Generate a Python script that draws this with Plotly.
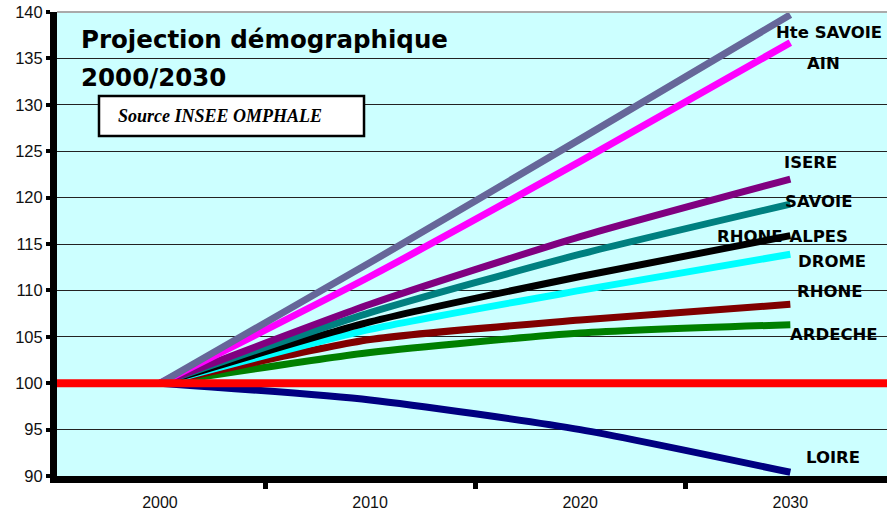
import plotly.graph_objects as go

years = [2000, 2010, 2020, 2030]
series_names = ["LOIRE", "ARDECHE", "RHONE", "DROME", "RHONE-ALPES", "SAVOIE", "ISERE", "AIN", "Hte SAVOIE"]
loire = [100, 98.2, 95.0, 90.4]
ardeche = [100, 103.3, 105.4, 106.3]
rhone = [100, 104.7, 106.8, 108.5]
drome = [100, 105.8, 110.0, 113.9]
rhone_alpes = [100, 106.6, 111.5, 115.9]
savoie = [100, 107.6, 113.9, 119.3]
isere = [100, 108.5, 115.8, 122.0]
ain = [100, 111.5, 123.9, 136.7]
hte_savoie = [100, 113.0, 126.3, 139.7]
base_value = 100
y_ticks = [90, 95, 100, 105, 110, 115, 120, 125, 130, 135, 140]
x_ticks = [2000, 2010, 2020, 2030]

values = [loire, ardeche, rhone, drome, rhone_alpes, savoie, isere, ain, hte_savoie]
colors = ["#000080", "#008000", "#800000", "#00FFFF", "#000000", "#008080", "#800080", "#FF00FF", "#666699"]
label_shift = [(43, 15), (44, -10), (40, 13), (42, -7), (-8, -1), (28, 3), (20, 17), (33, -21), (39, -18)]

fig = go.Figure()
for name, vals, col in zip(series_names, values, colors):
    fig.add_trace(go.Scatter(x=years, y=vals, mode="lines", name=name,
                             line=dict(color=col, width=7, shape="spline", smoothing=0.6),
                             showlegend=False, hoverinfo="x+y+name"))

label_font = dict(family="DejaVu Sans", size=16.5, color="#000000")
annotations = []
for name, vals, (dx, dy) in zip(series_names, values, label_shift):
    annotations.append(dict(x=years[-1], y=vals[-1], text="<b>" + name + "</b>", showarrow=False,
                            xshift=dx, yshift=dy, xanchor="center", yanchor="middle",
                            font=label_font))

title_font = dict(family="DejaVu Sans", size=24.5, color="#000000")
annotations += [
    dict(x=0.027, y=0.94, xref="paper", yref="paper", xanchor="left", yanchor="middle",
         text="<b>Projection démographique</b>", showarrow=False, font=title_font),
    dict(x=0.027, y=0.858, xref="paper", yref="paper", xanchor="left", yanchor="middle",
         text="<b>2000/2030</b>", showarrow=False, font=title_font),
    dict(x=0.0705, y=0.776, xref="paper", yref="paper", xanchor="left", yanchor="middle",
         text="<b><i>Source INSEE OMPHALE</i></b>", showarrow=False,
         font=dict(family="Liberation Serif, Times New Roman", size=18, color="#000000")),
]

shapes = [
    dict(type="rect", xref="paper", yref="paper", x0=0.0506, x1=0.3699, y0=0.733, y1=0.819,
         fillcolor="#FFFFFF", line=dict(color="#000000", width=2.5), layer="above"),
    dict(type="line", xref="paper", yref="y", x0=0, x1=1, y0=base_value, y1=base_value,
         line=dict(color="#FF0000", width=8), layer="above"),
    dict(type="line", xref="paper", yref="paper", x0=0, x1=1, y0=1, y1=1,
         line=dict(color="#AAAAAA", width=2), layer="above"),
]

fig.update_layout(
    width=887, height=510,
    margin=dict(l=57, r=0, t=12, b=34),
    paper_bgcolor="#FFFFFF", plot_bgcolor="#CCFFFF",
    annotations=annotations, shapes=shapes,
    font=dict(family="Liberation Sans, Arial", color="#000000"),
    xaxis=dict(range=[1995.1, 2034.6], tickvals=x_ticks, ticktext=[str(v) for v in x_ticks],
               automargin=False, ticklabelstandoff=6,
               showgrid=False, zeroline=False, ticks="", showline=True, linecolor="#000000",
               linewidth=7, tickfont=dict(size=16, color="#111111"),
               minor=dict(tick0=1995, dtick=10, ticks="outside", ticklen=6, tickwidth=5,
                          tickcolor="#000000", showgrid=False)),
    yaxis=dict(range=[90, 140], tickvals=y_ticks, showgrid=True, gridcolor="#222222", gridwidth=1,
               automargin=False,
               zeroline=False, ticks="outside", ticklen=4, tickwidth=4, tickcolor="#000000",
               showline=True, linecolor="#000000", linewidth=7,
               tickfont=dict(size=16.5, color="#111111")),
)

fig.write_html("out.html", config={"displayModeBar": False},
               post_script="document.body.style.margin='0';document.body.style.overflow='hidden';")
